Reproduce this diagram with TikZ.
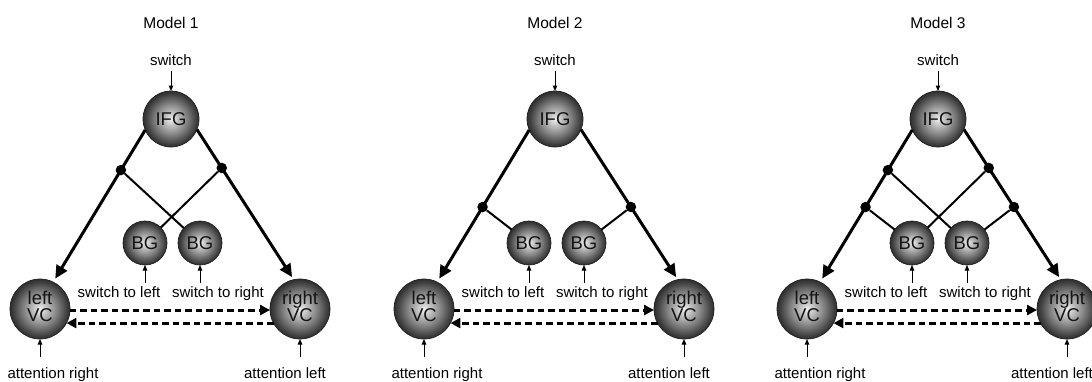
\documentclass[tikz,border=0pt]{standalone}
\usepackage{fontspec}
\setmainfont{Liberation Sans}
\usetikzlibrary{calc,arrows.meta}
\pgfdeclareradialshading{sphere}{\pgfpoint{0bp}{0bp}}{color(0bp)=(white!94!black); color(7bp)=(black!28); color(15bp)=(black!52); color(22bp)=(black!74); color(25bp)=(black!82); color(50bp)=(black!82)}
\tikzset{
 region/.style={circle, draw=black!88, line width=0.7pt, shade, shading=sphere, inner sep=0pt, outer sep=0pt, text=black!92, font=\fontsize{18.5}{17}\selectfont, align=center},
 ifgnode/.style={region, minimum size=56pt},
 bgnode/.style={region, minimum size=44pt},
 vcnode/.style={region, minimum size=60pt, text depth=6pt},
 lbl/.style={font=\fontsize{15}{17}\selectfont, inner sep=0pt, text height=11pt, text depth=3pt},
 ttl/.style={font=\fontsize{15.5}{18}\selectfont, inner sep=0pt},
 jdot/.style={circle, fill=black, inner sep=0pt, minimum size=10.5pt},
 bigarrow/.style={line width=3pt, -{Triangle[length=13pt,width=12pt]}},
 dasharrow/.style={line width=3pt, dash pattern=on 6.5pt off 4pt, -{Triangle[length=10pt,width=10pt]}},
 smallarrow/.style={line width=1pt, -{Triangle[length=5.5pt,width=4.5pt]}},
 bglink/.style={line width=2pt},
}
\newcommand\drawmodel[3]{%
 \begin{scope}[xshift=#2pt]
  \node[ttl] (title#1) at (0,23) {#3};
  \node[lbl] (sw#1) at (0,61) {switch};
  \node[ifgnode] (IFG#1) at (0,119) {IFG};
  \node[bgnode] (BGl#1) at (-26,243) {BG};
  \node[bgnode] (BGr#1) at (29,243) {BG};
  \node[vcnode] (lVC#1) at (-131,309) {left\\VC};
  \node[vcnode] (rVC#1) at (129,309) {right\\VC};
  \node[lbl] (stl#1) at (-52,293) {switch to left};
  \node[lbl] (str#1) at (47,293) {switch to right};
  \node[lbl] (atr#1) at (-118,374) {attention right};
  \node[lbl] (atl#1) at (114,374) {attention left};
  \coordinate (pLu#1) at ($(IFG#1.203)!0.264!(lVC#1.64)$);
  \coordinate (pLl#1) at ($(IFG#1.203)!0.507!(lVC#1.64)$);
  \coordinate (pRu#1) at ($(IFG#1.-22)!0.256!(rVC#1.102)$);
  \coordinate (pRl#1) at ($(IFG#1.-22)!0.516!(rVC#1.102)$);
  \draw[bigarrow, shorten >=4pt] (IFG#1.203) -- (lVC#1.64);
  \draw[bigarrow, shorten >=3pt] (IFG#1.-22) -- (rVC#1.102);
  \draw[smallarrow, shorten <=2.5pt] (sw#1) -- (IFG#1);
  \draw[smallarrow, shorten <=3pt] (BGl#1.south |- stl#1.north) -- (BGl#1.south);
  \draw[smallarrow, shorten <=3pt] (BGr#1.south |- str#1.north) -- (BGr#1.south);
  \draw[smallarrow, shorten <=10pt] (lVC#1.south |- atr#1.north) -- (lVC#1.south);
  \draw[smallarrow, shorten <=10pt] (rVC#1.south |- atl#1.north) -- (rVC#1.south);
  \draw[dasharrow] (lVC#1.-2) -- (rVC#1.182);
  \draw[dasharrow] (rVC#1.208) -- (lVC#1.-28);
 \end{scope}}
\begin{document}
\begin{tikzpicture}[x=1pt,y=-1pt]
\useasboundingbox (0,0) rectangle (1092,381);
% Model 1
\drawmodel{1}{171}{Model 1}
\node[jdot] (dLu1) at (pLu1) {};
\node[jdot] (dRu1) at (pRu1) {};
\draw[bglink] (dLu1) -- (BGr1);
\draw[bglink] (dRu1) -- (BGl1);
% Model 2
\drawmodel{2}{555}{Model 2}
\node[jdot] (dLl2) at (pLl2) {};
\node[jdot] (dRl2) at (pRl2) {};
\draw[bglink] (dLl2) -- (BGl2);
\draw[bglink] (dRl2) -- (BGr2);
% Model 3
\drawmodel{3}{938}{Model 3}
\node[jdot] (dLu3) at (pLu3) {};
\node[jdot] (dRu3) at (pRu3) {};
\node[jdot] (dLl3) at (pLl3) {};
\node[jdot] (dRl3) at (pRl3) {};
\draw[bglink] (dLu3) -- (BGr3);
\draw[bglink] (dRu3) -- (BGl3);
\draw[bglink] (dLl3) -- (BGl3);
\draw[bglink] (dRl3) -- (BGr3);
\end{tikzpicture}
\end{document}
